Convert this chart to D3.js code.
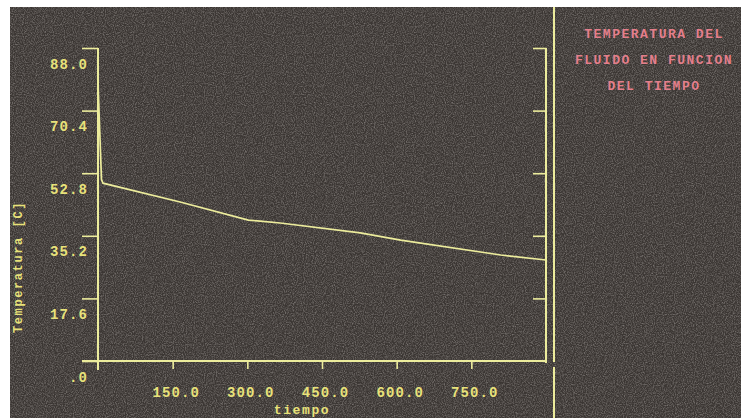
<!DOCTYPE html>
<html>
<head>
<meta charset="utf-8">
<script src="https://cdn.jsdelivr.net/npm/d3@7"></script>
<style>
  body { margin: 0; background: #fff; }
  svg text { font-family: "Liberation Mono", "DejaVu Sans Mono", monospace; font-weight: bold; }
</style>
</head>
<body>
<svg id="chart" width="741" height="418"></svg>
<script>
// values
const tiempo = [0, 7, 10, 165, 302, 320, 366, 527, 608, 809, 900];
const temperatura = [78, 51, 50, 44.7, 39.6, 39.4, 38.8, 36.0, 34.0, 29.8, 28.4];
const yTicks = [0, 17.6, 35.2, 52.8, 70.4, 88.0];
const xTicks = [150, 300, 450, 600, 750];
const titleLines = ["TEMPERATURA DEL", "FLUIDO EN FUNCION", "DEL TIEMPO"];

const svg = d3.select("svg#chart");
const lineColor = "#ecec9c";
const textColor = "#e8e27a";

const bounds = { minX: 98, maxX: 546, minY: 48, maxY: 361 };

// grainy screen background
const defs = svg.append("defs");
const f = defs.append("filter").attr("id", "grain").attr("x", 0).attr("y", 0).attr("width", "100%").attr("height", "100%");
f.append("feTurbulence").attr("type", "fractalNoise").attr("baseFrequency", 0.9).attr("numOctaves", 2).attr("seed", 3);
f.append("feColorMatrix").attr("type", "matrix")
  .attr("values", "0 0 0 0 0.55  0 0 0 0 0.52  0 0 0 0 0.5  1.6 0 0 0 -0.6");

svg.append("rect").attr("x", 10).attr("y", 7).attr("width", 731).attr("height", 411).attr("fill", "#3b3633");
svg.append("rect").attr("x", 10).attr("y", 7).attr("width", 731).attr("height", 411)
  .attr("filter", "url(#grain)").attr("opacity", 0.55);

const scaleX = d3.scaleLinear().domain([0, 900]).range([bounds.minX, bounds.maxX]);
const scaleY = d3.scaleLinear().domain([0, 88]).range([bounds.maxY, bounds.minY]);

// left axis
const yAxisG = svg.append("g").attr("transform", `translate(${bounds.minX} 0)`);
yAxisG.call(d3.axisLeft(scaleY).tickValues(yTicks).tickSize(16).tickSizeOuter(0)
  .tickFormat(d => d === 0 ? ".0" : d.toFixed(1)));
yAxisG.select(".domain").remove();
yAxisG.selectAll("line").attr("stroke", lineColor).attr("stroke-width", 1.6);
yAxisG.selectAll("text").attr("fill", textColor).attr("font-size", 14).attr("letter-spacing", 1.1)
  .attr("x", -10).attr("dy", 0).attr("y", 20);
yAxisG.append("line").attr("x1", 0).attr("x2", 0).attr("y1", bounds.minY).attr("y2", bounds.maxY + 9)
  .attr("stroke", lineColor).attr("stroke-width", 2);

// right axis (ticks only)
const rAxisG = svg.append("g").attr("transform", `translate(${bounds.maxX} 0)`);
rAxisG.call(d3.axisLeft(scaleY).tickValues(yTicks.slice(1)).tickSize(13).tickSizeOuter(0).tickFormat(""));
rAxisG.select(".domain").remove();
rAxisG.selectAll("line").attr("stroke", lineColor).attr("stroke-width", 1.6);
rAxisG.append("line").attr("x1", 0).attr("x2", 0).attr("y1", bounds.minY).attr("y2", bounds.maxY + 2)
  .attr("stroke", lineColor).attr("stroke-width", 2);

// bottom axis
const xAxisG = svg.append("g").attr("transform", `translate(0 ${bounds.maxY})`);
xAxisG.call(d3.axisBottom(scaleX).tickValues(xTicks).tickSize(8).tickSizeOuter(0)
  .tickFormat(d => d.toFixed(1)));
xAxisG.select(".domain").remove();
xAxisG.selectAll("line").attr("stroke", lineColor).attr("stroke-width", 1.6);
xAxisG.selectAll("text").attr("fill", textColor).attr("font-size", 14).attr("letter-spacing", 1.1)
  .attr("y", 36).attr("dy", 0).attr("dx", 3);
xAxisG.append("line").attr("x1", bounds.minX - 16).attr("x2", bounds.maxX).attr("y1", 0).attr("y2", 0)
  .attr("stroke", lineColor).attr("stroke-width", 2);

// axis titles
svg.append("text").attr("x", 302).attr("y", 414).attr("text-anchor", "middle")
  .attr("fill", textColor).attr("font-size", 13).attr("letter-spacing", 1.6).text("tiempo");
svg.append("text").attr("transform", "translate(22 267) rotate(-90)").attr("text-anchor", "middle")
  .attr("fill", textColor).attr("font-size", 12).attr("letter-spacing", 1.6).text("Temperatura [C]");

// curve
const line = d3.line().x((d, i) => scaleX(d)).y((d, i) => scaleY(temperatura[i]));
svg.append("path").attr("d", line(tiempo)).attr("fill", "none")
  .attr("stroke", lineColor).attr("stroke-width", 1.7);

// separator
svg.append("line").attr("x1", 554).attr("x2", 554).attr("y1", 7).attr("y2", 362)
  .attr("stroke", lineColor).attr("stroke-width", 2);
svg.append("line").attr("x1", 554).attr("x2", 554).attr("y1", 367).attr("y2", 418)
  .attr("stroke", lineColor).attr("stroke-width", 2);

// title
svg.append("g").selectAll("text").data(titleLines).join("text")
  .attr("x", 654).attr("y", (d, i) => 38 + i * 26).attr("text-anchor", "middle")
  .attr("fill", "#e47f8c").attr("font-size", 13).attr("letter-spacing", 1.5).text(d => d);
</script>
</body>
</html>
